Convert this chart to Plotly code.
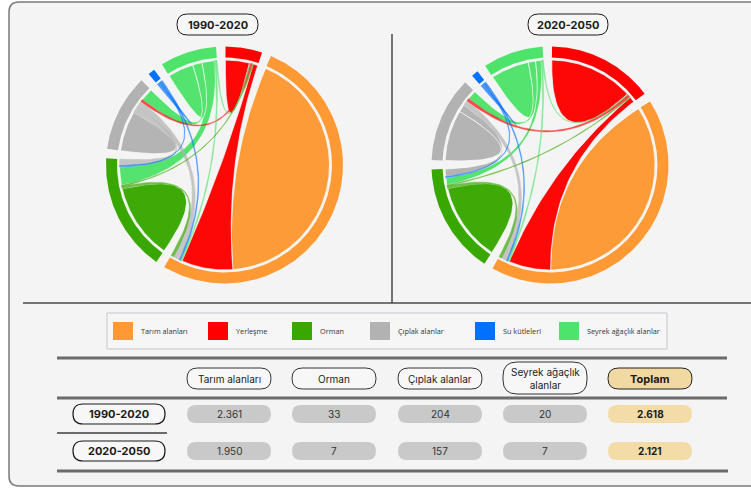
import numpy as np
import plotly.graph_objects as go

# ---------------- data ----------------
sectors = ["Yerleşme", "Tarım alanları", "Orman", "Çıplak alanlar", "Su kütleleri", "Seyrek ağaçlık alanlar"]
sector_colors = ["#FF0000", "#FF9933", "#38A800", "#B2B2B2", "#0070FF", "#4EE36A"]
legend_order = ["Tarım alanları", "Yerleşme", "Orman", "Çıplak alanlar", "Su kütleleri", "Seyrek ağaçlık alanlar"]

# 1990-2020 flows (sector a, sector b, width at a, width at b)
p1_a = ["Yerleşme", "Tarım alanları", "Yerleşme", "Orman", "Çıplak alanlar", "Seyrek ağaçlık alanlar",
        "Seyrek ağaçlık alanlar", "Seyrek ağaçlık alanlar", "Çıplak alanlar", "Çıplak alanlar", "Yerleşme",
        "Orman", "Orman", "Su kütleleri", "Su kütleleri", "Seyrek ağaçlık alanlar", "Seyrek ağaçlık alanlar",
        "Su kütleleri"]
p1_b = ["Yerleşme", "Tarım alanları", "Tarım alanları", "Orman", "Çıplak alanlar", "Seyrek ağaçlık alanlar",
        "Orman", "Çıplak alanlar", "Orman", "Tarım alanları", "Çıplak alanlar",
        "Tarım alanları", "Yerleşme", "Tarım alanları", "Orman", "Tarım alanları", "Yerleşme",
        "Su kütleleri"]
p1_va = [13, 150, 2.5, 41, 22, 14, 7, 5, 3.5, 3.5, 1.2, 1.5, 0.5, 0.8, 0.7, 0.8, 0.5, 1.8]
p1_vb = [13, 150, 28, 41, 22, 14, 10, 7, 3.5, 3.5, 1.2, 1.5, 0.5, 0.8, 0.7, 0.8, 0.5, 1.8]

# 2020-2050 flows
p2_a = list(p1_a)
p2_b = list(p1_b)
p2_va = [46, 121, 3, 43, 28, 21, 3, 4, 4, 3, 1.5, 1.5, 0.5, 0.8, 0.7, 0.8, 0.5, 1.8]
p2_vb = [46, 121, 23, 43, 28, 21, 4, 5, 4, 3, 1.5, 1.5, 0.5, 0.8, 0.7, 0.8, 0.5, 1.8]

periods = ["1990-2020", "2020-2050"]
table_cols = ["Tarım alanları", "Orman", "Çıplak alanlar", "Seyrek ağaçlık<br>alanlar"]
vals_1990_2020 = [2361, 33, 204, 20]
vals_2020_2050 = [1950, 7, 157, 7]

# ---------------- helpers ----------------
BG = "#F4F4F4"


def fmt(v):
    return f"{v:,}".replace(",", ".")


def pt(cx, cy, r, deg):
    t = np.radians(deg)
    return np.array([cx + r * np.sin(t), cy - r * np.cos(t)])


def arc(cx, cy, r, d0, d1, n=None):
    if n is None:
        n = max(4, int(abs(d1 - d0) * 1.5))
    t = np.radians(np.linspace(d0, d1, n))
    return np.column_stack([cx + r * np.sin(t), cy - r * np.cos(t)])


def bez(p0, p2, c, n=40):
    t = np.linspace(0, 1, n)[:, None]
    return (1 - t) ** 2 * p0 + 2 * (1 - t) * t * c + t ** 2 * p2


def chord_traces(cx, cy, la, lb, va, vb, start, gap=4.6, R_out=118.5, R_in=107.5, Ri=105):
    n = len(sectors)
    idx = {s: i for i, s in enumerate(sectors)}
    ends = {i: [] for i in range(n)}
    for k, (a, b, x, y) in enumerate(zip(la, lb, va, vb)):
        ia, ib = idx[a], idx[b]
        if ia == ib:
            ends[ia].append((n, k, "s", x))
        else:
            ends[ia].append(((ib - ia) % n, k, "a", x))
            ends[ib].append(((ia - ib) % n, k, "b", y))
    totals = [sum(e[3] for e in ends[i]) for i in range(n)]
    scale = (360 - n * gap) / sum(totals)
    pos = start
    spans = []
    lp = {}
    for i in range(n):
        s0 = pos
        for e in sorted(ends[i], key=lambda e: -e[0]):
            w = e[3] * scale
            lp[(e[1], e[2])] = (pos, pos + w)
            pos += w
        spans.append((s0, pos))
        pos += gap
    traces = []
    C = np.array([cx, cy])
    # ring
    for i in range(n):
        d0, d1 = spans[i]
        poly = np.vstack([arc(cx, cy, R_out, d0, d1), arc(cx, cy, R_in, d1, d0)])
        traces.append(go.Scatter(x=poly[:, 0], y=poly[:, 1], mode="lines", fill="toself",
                                 fillcolor=sector_colors[i], line=dict(width=0),
                                 hoverinfo="skip", showlegend=False))
    # links
    order = sorted(range(len(la)), key=lambda k: -max(va[k], vb[k]))
    for k in order:
        col = sector_colors[idx[la[k]]]
        if (k, "s") in lp:
            a0, a1 = lp[(k, "s")]
            poly = np.vstack([arc(cx, cy, Ri, a0, a1),
                              bez(pt(cx, cy, Ri, a1), pt(cx, cy, Ri, a0), C)])
            wmax = va[k]
        else:
            a0, a1 = lp[(k, "a")]
            b0, b1 = lp[(k, "b")]
            poly = np.vstack([arc(cx, cy, Ri, a0, a1),
                              bez(pt(cx, cy, Ri, a1), pt(cx, cy, Ri, b0), C),
                              arc(cx, cy, Ri, b0, b1),
                              bez(pt(cx, cy, Ri, b1), pt(cx, cy, Ri, a0), C)])
            wmax = max(va[k], vb[k])
        if wmax * scale > 4:
            ln = dict(color="rgba(255,255,255,0.85)", width=0.8)
            op = 0.97
        else:
            ln = dict(color=col, width=0.5)
            op = 0.7
        traces.append(go.Scatter(x=poly[:, 0], y=poly[:, 1], mode="lines", fill="toself",
                                 fillcolor=col, line=ln, opacity=op,
                                 hoverinfo="skip", showlegend=False))
    return traces


def pill_path(x0, y0, x1, y1, r):
    return (f"M {x0 + r},{y0} L {x1 - r},{y0} Q {x1},{y0} {x1},{y0 + r} L {x1},{y1 - r} "
            f"Q {x1},{y1} {x1 - r},{y1} L {x0 + r},{y1} Q {x0},{y1} {x0},{y1 - r} "
            f"L {x0},{y0 + r} Q {x0},{y0} {x0 + r},{y0} Z")


shapes = []
annots = []


def pill(x0, y0, x1, y1, fill, line_color=None, lw=1.0, r=None):
    if r is None:
        r = (y1 - y0) / 2
    shapes.append(dict(type="path", path=pill_path(x0, y0, x1, y1, r), xref="x", yref="y",
                       fillcolor=fill, line=dict(color=line_color or fill, width=lw if line_color else 0),
                       layer="above"))


def text(x, y, s, size=10, color="#222", bold=False, xanchor="center", family="Inter"):
    annots.append(dict(x=x, y=y, xref="x", yref="y", text=f"<b>{s}</b>" if bold else s,
                       showarrow=False, xanchor=xanchor, yanchor="middle",
                       font=dict(size=size, color=color, family=family)))


# ---------------- figure ----------------
fig = go.Figure()

# frame
shapes.append(dict(type="path", path="M 9,12 Q 9,2 19,2 L 800,2 L 800,486 L 19,486 Q 9,486 9,476 Z",
                   xref="x", yref="y", fillcolor=BG, line=dict(color="#7A7A7A", width=1.5), layer="below"))
# separators
shapes.append(dict(type="line", x0=23, x1=751, y0=303, y1=303, xref="x", yref="y",
                   line=dict(color="#4A4A4A", width=1.5), layer="below"))
shapes.append(dict(type="line", x0=392, x1=392, y0=34, y1=303, xref="x", yref="y",
                   line=dict(color="#4A4A4A", width=1.5), layer="below"))

for tr in chord_traces(224.5, 165, p1_a, p1_b, p1_va, p1_vb, start=0.5):
    fig.add_trace(tr)
for tr in chord_traces(550, 165, p2_a, p2_b, p2_va, p2_vb, start=1.0):
    fig.add_trace(tr)

# titles
for (x0, x1), lab in zip([(177, 258), (528, 608)], periods):
    pill(x0, 14, x1, 35, "#F7F7F7", "#1A1A1A", 1.0)
    text((x0 + x1) / 2, 24.5, lab, size=11, color="#1A1A1A", bold=True)

# legend box
shapes.append(dict(type="rect", x0=107, x1=667, y0=313, y1=349, xref="x", yref="y",
                   fillcolor="#F6F6F6", line=dict(color="#C4C4CE", width=1), layer="below"))
leg_x = [113, 208, 292, 370, 475, 559]
for xs, name in zip(leg_x, legend_order):
    col = sector_colors[sectors.index(name)]
    shapes.append(dict(type="rect", x0=xs, x1=xs + 20, y0=322, y1=340, xref="x", yref="y",
                       fillcolor=col, line=dict(width=0)))
    text(xs + 26, 331, name, size=7.3, color="#333", xanchor="left", family="Open Sans")

# table lines
for y, x1, w in [(358, 727, 3), (398, 727, 3), (471, 728, 3)]:
    shapes.append(dict(type="line", x0=57, x1=x1, y0=y, y1=y, xref="x", yref="y",
                       line=dict(color="#6B6B6B", width=w)))
shapes.append(dict(type="line", x0=57, x1=167, y0=433, y1=433, xref="x", yref="y",
                   line=dict(color="#6B6B6B", width=2)))

col_x = [229, 334, 440, 545, 650]
# header
for cxp, lab in zip(col_x[:4], table_cols):
    if "<br>" in lab:
        pill(cxp - 42, 362, cxp + 42, 394, "#F7F7F7", "#333", 1.0, r=14)
        text(cxp, 378, lab, size=10, color="#222")
    else:
        pill(cxp - 42, 368, cxp + 42, 389, "#F7F7F7", "#333", 1.0)
        text(cxp, 378.5, lab, size=10, color="#222")
pill(col_x[4] - 42, 368, col_x[4] + 42, 389, "#F2D9A2", "#222", 1.0)
text(col_x[4], 378.5, "Toplam", size=11, color="#1A1A1A", bold=True)

# rows
for (yc, lab, vals) in [(414, periods[0], vals_1990_2020), (451, periods[1], vals_2020_2050)]:
    pill(73, yc - 10, 165, yc + 10, "#F7F7F7", "#1A1A1A", 1.2)
    text(119, yc, lab, size=11, color="#1A1A1A", bold=True)
    for cxp, v in zip(col_x[:4], vals):
        pill(cxp - 42, yc - 9, cxp + 42, yc + 9, "#C9C9C9")
        text(cxp, yc, fmt(v), size=10, color="#333")
    pill(col_x[4] - 42, yc - 9, col_x[4] + 42, yc + 9, "#F3DCA8")
    text(col_x[4], yc, fmt(sum(vals)), size=10, color="#1A1A1A", bold=True)

fig.update_layout(
    width=751, height=488, margin=dict(l=0, r=0, t=0, b=0),
    paper_bgcolor="white", plot_bgcolor="rgba(0,0,0,0)",
    xaxis=dict(range=[0, 751], visible=False, fixedrange=True),
    yaxis=dict(range=[488, 0], visible=False, fixedrange=True),
    shapes=shapes, annotations=annots, showlegend=False,
)
fig.write_html("out.html", config={"displayModeBar": False},
               post_script="document.body.style.margin='0px';document.body.style.overflow='hidden';")
